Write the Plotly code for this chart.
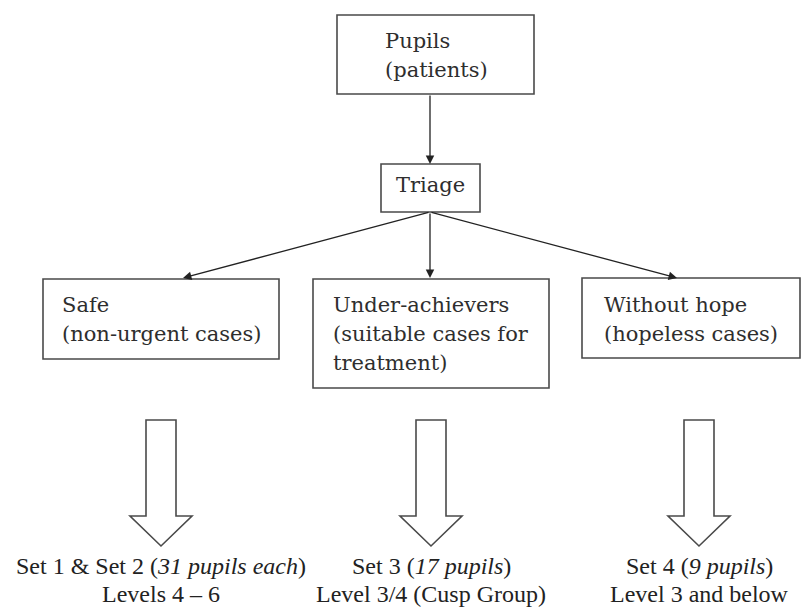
import plotly.graph_objects as go

# ---- content ----
box_lines = [
    ["Pupils", "(patients)"],
    ["Triage"],
    ["Safe", "(non-urgent cases)"],
    ["Under-achievers", "(suitable cases for", "treatment)"],
    ["Without hope", "(hopeless cases)"],
]
outcome_lines = [
    ["Set 1 &amp; Set 2 (<i>31 pupils each</i>)", "Levels 4 – 6"],
    ["Set 3 (<i>17 pupils</i>)", "Level 3/4 (Cusp Group)"],
    ["Set 4 (<i>9 pupils</i>)", "Level 3 and below"],
]

# ---- layout geometry (pixels) ----
box_x0 = [337, 381, 43, 313, 582]
box_x1 = [534, 480, 279, 549, 800]
box_y0 = [15, 164, 279, 279, 278]
box_y1 = [94, 212, 359, 388, 358]
text_x = [383, None, 60, 331, 602]
text_y0 = [41, 185, 305, 305, 305]
line_gap = 29

connectors = [  # (from_x, from_y, to_x, to_y)
    (430, 94, 430, 164),
    (430, 212, 183, 278),
    (430, 212, 430, 278),
    (430, 212, 677, 278),
]

block_cx = [161, 431, 699]
shaft_hw, head_hw = 15, 31
shaft_top, shoulder, tip = 420, 516, 546
outcome_y0 = 566
outcome_gap = 28

W, H = 807, 608
fig = go.Figure()
fig.add_trace(go.Scatter(x=[0, W], y=[0, H], mode="markers", marker=dict(opacity=0), hoverinfo="skip", showlegend=False))

edge = "#4a4a4a"
txt = "#2e2e2e"
box_font = dict(family="DejaVu Serif", size=21, color=txt)
out_font = dict(family="'Liberation Serif', 'Times New Roman', Times, serif", size=24, color="#222222")

shapes = []
annotations = []
for i, lines in enumerate(box_lines):
    shapes.append(dict(type="rect", xref="x", yref="y", x0=box_x0[i], x1=box_x1[i], y0=box_y0[i], y1=box_y1[i],
                       line=dict(color=edge, width=1.6), fillcolor="rgba(0,0,0,0)"))
    for j, ln in enumerate(lines):
        if text_x[i] is None:
            annotations.append(dict(x=(box_x0[i] + box_x1[i]) / 2, y=text_y0[i] + j * line_gap, xref="x", yref="y",
                                    text=ln, showarrow=False, xanchor="center", yanchor="middle", font=box_font))
        else:
            annotations.append(dict(x=text_x[i], y=text_y0[i] + j * line_gap, xref="x", yref="y",
                                    text=ln, showarrow=False, xanchor="left", yanchor="middle", font=box_font))

for (fx, fy, tx, ty) in connectors:
    annotations.append(dict(x=tx, y=ty, ax=fx, ay=fy, xref="x", yref="y", axref="x", ayref="y",
                            text="", showarrow=True, arrowhead=2, arrowsize=1.3, arrowwidth=1.3,
                            arrowcolor="#222222", standoff=0))

for k, cx in enumerate(block_cx):
    path = (f"M {cx-shaft_hw},{shaft_top} L {cx+shaft_hw},{shaft_top} L {cx+shaft_hw},{shoulder} "
            f"L {cx+head_hw},{shoulder} L {cx},{tip} L {cx-head_hw},{shoulder} L {cx-shaft_hw},{shoulder} Z")
    shapes.append(dict(type="path", xref="x", yref="y", path=path, line=dict(color=edge, width=1.6),
                       fillcolor="white"))
    for j, ln in enumerate(outcome_lines[k]):
        annotations.append(dict(x=cx, y=outcome_y0 + j * outcome_gap, xref="x", yref="y", text=ln,
                                showarrow=False, xanchor="center", yanchor="middle", font=out_font))

fig.update_layout(
    width=W, height=H, margin=dict(l=0, r=0, t=0, b=0),
    paper_bgcolor="white", plot_bgcolor="white",
    xaxis=dict(range=[0, W], visible=False, fixedrange=True),
    yaxis=dict(range=[H, 0], visible=False, fixedrange=True),
    shapes=shapes, annotations=annotations, showlegend=False,
)
fig.write_html("out.html", config={"displayModeBar": False},
               post_script="document.body.style.margin='0';document.body.style.overflow='hidden';")
